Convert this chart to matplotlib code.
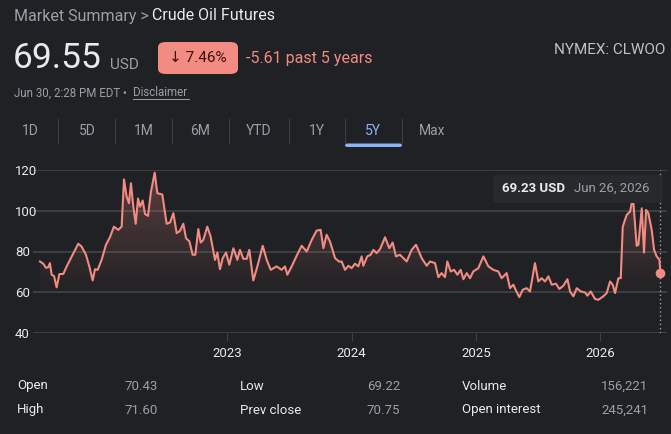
import numpy as np
import matplotlib
matplotlib.use('Agg')
import matplotlib.pyplot as plt
from matplotlib.patches import FancyBboxPatch, PathPatch
from matplotlib.colors import to_rgb

plt.rcParams['font.family'] = ['Roboto', 'DejaVu Sans']

# Crude oil futures, 5 year view (decimal year, USD)
years = [
    2021.493, 2021.520, 2021.541, 2021.560, 2021.573, 2021.587, 2021.606, 2021.627,
    2021.649, 2021.681, 2021.708, 2021.748, 2021.801, 2021.828, 2021.863, 2021.890,
    2021.917, 2021.936, 2021.957, 2021.989, 2022.024, 2022.056, 2022.088, 2022.123,
    2022.150, 2022.169, 2022.190, 2022.209, 2022.225, 2022.244, 2022.263, 2022.282,
    2022.298, 2022.319, 2022.338, 2022.362, 2022.386, 2022.416, 2022.437, 2022.477,
    2022.512, 2022.539, 2022.566, 2022.593, 2022.619, 2022.646, 2022.668, 2022.695,
    2022.721, 2022.743, 2022.767, 2022.786, 2022.807, 2022.839, 2022.866, 2022.901,
    2022.920, 2022.941, 2022.963, 2022.990, 2023.016, 2023.049, 2023.081, 2023.102,
    2023.129, 2023.156, 2023.177, 2023.209, 2023.242, 2023.285, 2023.317, 2023.349,
    2023.397, 2023.437, 2023.464, 2023.483, 2023.518, 2023.558, 2023.598, 2023.639,
    2023.679, 2023.719, 2023.751, 2023.773, 2023.799, 2023.826, 2023.867, 2023.901,
    2023.920, 2023.947, 2023.974, 2024.000, 2024.027, 2024.054, 2024.081, 2024.094,
    2024.126, 2024.153, 2024.175, 2024.201, 2024.228, 2024.269, 2024.303, 2024.330,
    2024.357, 2024.389, 2024.443, 2024.483, 2024.518, 2024.564, 2024.604, 2024.631,
    2024.671, 2024.698, 2024.724, 2024.751, 2024.770, 2024.797, 2024.824, 2024.851,
    2024.877, 2024.899, 2024.926, 2024.952, 2024.979, 2025.019, 2025.060, 2025.100,
    2025.140, 2025.180, 2025.207, 2025.247, 2025.274, 2025.301, 2025.323, 2025.349,
    2025.376, 2025.408, 2025.435, 2025.475, 2025.502, 2025.529, 2025.556, 2025.583,
    2025.610, 2025.644, 2025.671, 2025.703, 2025.736, 2025.757, 2025.784, 2025.811,
    2025.843, 2025.878, 2025.897, 2025.923, 2025.958, 2025.985, 2026.025, 2026.052,
    2026.079, 2026.100, 2026.119, 2026.146, 2026.165, 2026.181, 2026.213, 2026.240,
    2026.253, 2026.267, 2026.293, 2026.307, 2026.334, 2026.352, 2026.369, 2026.387,
    2026.414, 2026.433, 2026.454, 2026.476, 2026.484,
]
prices = [
    75.1, 74.0, 72.0, 72.3, 74.3, 68.6, 68.0, 62.4,
    68.9, 69.0, 72.7, 77.5, 83.8, 82.4, 78.4, 72.7,
    65.8, 71.3, 71.0, 75.9, 83.3, 87.0, 92.2, 90.6,
    92.2, 115.4, 107.0, 103.7, 113.5, 102.0, 93.6, 106.0,
    102.0, 105.0, 98.4, 97.5, 109.4, 118.7, 108.6, 108.0,
    93.6, 94.2, 98.8, 89.0, 90.1, 93.6, 86.5, 85.0,
    78.4, 78.4, 91.0, 84.4, 85.7, 92.2, 87.3, 75.9,
    79.5, 71.3, 76.7, 79.5, 73.5, 81.6, 75.9, 80.8,
    76.4, 76.4, 80.8, 65.8, 72.7, 82.8, 75.9, 71.0,
    72.7, 71.0, 72.7, 68.6, 72.7, 77.9, 82.8, 80.0,
    85.7, 90.3, 90.6, 81.6, 88.2, 84.9, 76.7, 75.0,
    75.1, 71.0, 73.0, 71.8, 74.0, 72.7, 77.6, 73.0,
    77.6, 78.4, 80.8, 79.2, 81.1, 87.0, 81.6, 84.4,
    77.6, 78.4, 75.1, 80.8, 83.3, 76.7, 73.0, 75.1,
    74.3, 67.4, 69.4, 67.4, 75.1, 70.2, 71.0, 68.6,
    71.0, 66.4, 69.4, 66.9, 70.2, 71.8, 77.6, 72.7,
    71.0, 70.2, 66.9, 69.4, 62.0, 63.7, 60.7, 57.6,
    61.2, 62.0, 60.4, 74.3, 65.3, 66.9, 65.3, 67.8,
    63.7, 64.2, 61.6, 63.2, 66.4, 60.4, 58.0, 62.0,
    60.4, 59.9, 58.3, 60.4, 56.7, 56.3, 58.0, 59.6,
    65.3, 63.7, 59.6, 66.9, 66.9, 92.2, 98.0, 99.6,
    103.7, 103.7, 82.8, 83.3, 101.2, 79.5, 100.4, 98.8,
    90.6, 80.8, 77.6, 75.9, 69.23,
]
y_ticks = [40, 60, 80, 100, 120]
x_ticks = [2023, 2024, 2025, 2026]

tabs = ['1D', '5D', '1M', '6M', 'YTD', '1Y', '5Y', 'Max']
stat_labels = [['Open', 'High'], ['Low', 'Prev close'], ['Volume', 'Open interest']]
stat_values = [['70.43', '71.60'], ['69.22', '70.75'], ['156,221', '245,241']]

BG = '#202124'
GRID = '#3c4043'
RED = '#f28b82'
LIGHT = '#e8eaed'
GRAY = '#9aa0a6'
BLUE = '#8ab4f8'

W, H = 671, 434
fig = plt.figure(figsize=(W / 100, H / 100), dpi=100, facecolor=BG)


def fx(x):
    return x / W


def fy(y):
    return 1 - y / H


# header
fig.text(fx(14), fy(16), 'Market Summary >', color=GRAY, fontsize=11.5, va='center')
fig.text(fx(152), fy(16), 'Crude Oil Futures', color=LIGHT, fontsize=11.5, va='center')
fig.text(fx(13), fy(58), '69.55', color=LIGHT, fontsize=25.5, va='center')
fig.text(fx(110), fy(65), 'USD', color=GRAY, fontsize=11, va='center')
fig.patches.append(FancyBboxPatch((fx(158), fy(74)), fx(80), 32 / H,
                                  boxstyle='round,pad=0,rounding_size=0.012',
                                  transform=fig.transFigure, facecolor=RED,
                                  edgecolor='none'))
fig.text(fx(198), fy(58), '↓ 7.46%', color='#3c0d09', fontsize=11,
         ha='center', va='center')
fig.text(fx(246), fy(58), '-5.61 past 5 years', color=RED, fontsize=11.5,
         va='center')
fig.text(fx(665), fy(50), 'NYMEX: CLWOO', color='#bdc1c6', fontsize=11,
         ha='right', va='center')
fig.text(fx(14), fy(93), 'Jun 30, 2:28 PM EDT •', color=GRAY, fontsize=8.3,
         va='center')
fig.text(fx(133), fy(93), 'Disclaimer', color=GRAY, fontsize=8.3, va='center')
fig.lines.append(plt.Line2D([fx(133), fx(189)], [fy(99), fy(99)],
                            transform=fig.transFigure, color=GRAY, lw=0.7))

# range tabs
tab_x = [30, 87, 144, 200, 259, 317, 373, 432]
for i, name in enumerate(tabs):
    fig.text(fx(tab_x[i]), fy(131), name, color=BLUE if name == '5Y' else GRAY,
             fontsize=10, ha='center', va='center')
for sx in [58, 115, 172, 229, 289, 345, 402]:
    fig.lines.append(plt.Line2D([fx(sx), fx(sx)], [fy(119), fy(143)],
                                transform=fig.transFigure, color=GRID, lw=0.8))
fig.patches.append(FancyBboxPatch((fx(345), fy(147)), fx(57), 3.5 / H,
                                  boxstyle='round,pad=0,rounding_size=0.004',
                                  transform=fig.transFigure, facecolor=BLUE,
                                  edgecolor='none'))

# chart
ax = fig.add_axes([fx(33), fy(333), fx(634), (333 - 170) / H])
ax.set_facecolor('none')
t = np.array(years)
p = np.array(prices)
x0, x1 = 2021.437, 2026.537
ax.set_xlim(x0, x1)
ax.set_ylim(40, 120)
for s in ax.spines.values():
    s.set_visible(False)
ax.set_yticks(y_ticks)
ax.set_xticks(x_ticks)
ax.set_xticklabels([str(v) for v in x_ticks])
ax.tick_params(axis='y', length=0, pad=13, labelsize=9.5, labelcolor=LIGHT)
for lab in ax.get_yticklabels():
    lab.set_horizontalalignment('left')
ax.tick_params(axis='x', length=6, width=0.8, color=GRID, pad=4,
               labelsize=9.5, labelcolor=LIGHT)
ax.grid(axis='y', color=GRID, lw=1.4)
ax.set_axisbelow(True)

# gradient fill under the line
rgb = to_rgb(RED)
grad = np.zeros((256, 1, 4))
grad[..., 0], grad[..., 1], grad[..., 2] = rgb
alpha = np.clip(np.linspace(-0.08, 0.28, 256), 0, None)
grad[:, 0, 3] = alpha
im = ax.imshow(grad, extent=[x0, x1, 40, 120], aspect='auto', origin='lower',
               zorder=1, interpolation='bilinear')
poly = ax.fill_between(t, p, 40, color='none')
clip = PathPatch(poly.get_paths()[0], transform=ax.transData,
                 facecolor='none', edgecolor='none')
ax.add_patch(clip)
im.set_clip_path(clip)

ax.plot(t, p, color=RED, lw=1.5, zorder=3, solid_joinstyle='round')
ax.axvline(t[-1], color=GRAY, lw=1, ls=(0, (1, 2)), zorder=2)
ax.plot(t[-1], p[-1], 'o', color=RED, ms=7, zorder=4, mec='none')

# tooltip
fig.patches.append(FancyBboxPatch((fx(493), fy(203)), fx(170), 28 / H,
                                  boxstyle='round,pad=0,rounding_size=0.004',
                                  transform=fig.transFigure, facecolor='#28292d',
                                  edgecolor='none', zorder=5))
fig.text(fx(502), fy(188), '69.23 USD', color=LIGHT, fontsize=9.5,
         fontweight='bold', va='center', zorder=6)
fig.text(fx(574), fy(188), 'Jun 26, 2026', color=GRAY, fontsize=9.5,
         va='center', zorder=6)

# stats
col_x = [17, 240, 462]
val_x = [158, 400, 648]
row_y = [386, 410]
for c in range(3):
    for r in range(2):
        fig.text(fx(col_x[c]), fy(row_y[r]), stat_labels[c][r], color=LIGHT,
                 fontsize=9.5, va='center')
        fig.text(fx(val_x[c]), fy(row_y[r]), stat_values[c][r], color=GRAY,
                 fontsize=9.5, ha='right', va='center')

plt.savefig('out.png', dpi=100, facecolor=BG)
